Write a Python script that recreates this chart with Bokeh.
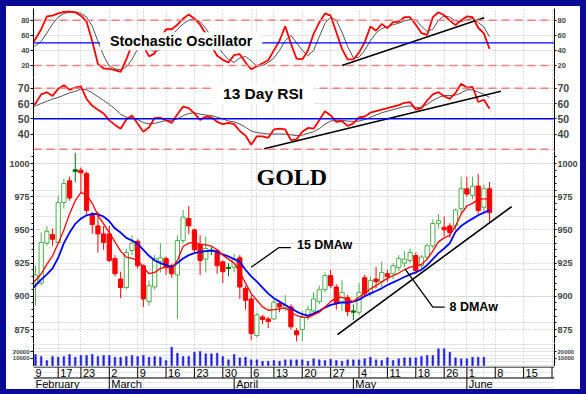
import math
from bokeh.plotting import figure
from bokeh.models import Range1d, FixedTicker, LinearAxis, Grid, Span, Label, ColumnDataSource
from bokeh.layouts import column
from bokeh.embed import file_html
from bokeh.resources import INLINE
from bokeh.core.properties import value

# ---------------- data (trading-day index 0 = 9 Feb 2009) ----------------
opens = [905, 910, 910, 940, 946.5, 940.5, 970.6, 987, 994, 995,
         992.5, 961, 953, 947, 947, 928.5, 913, 906.6, 934.5, 941.5,
         923, 896, 907, 926, 928.5, 923, 916, 942, 958.6, 950,
         939, 928, 934, 934.5, 926, 921, 922, 929, 906, 898,
         870.5, 884.5, 883, 883, 894.5, 891, 892, 874, 875, 885,
         889, 896, 905, 915.6, 907, 895.6, 899, 888, 888, 914,
         903, 913, 911, 917, 917, 921.7, 925, 927, 930.7, 923,
         929.5, 938, 955, 952, 953, 953, 966, 981, 976, 983,
         967, 981]
highs = [918, 923, 948, 953, 951, 976, 988.5, 990, 1008, 997,
         994, 963.5, 963.5, 953, 953, 931, 918.5, 936, 946, 943,
         924, 912, 931, 940, 930, 924.5, 946, 965, 968, 951,
         946, 945, 937, 935, 927, 925, 932, 931, 908, 901,
         887.5, 886, 884.5, 897.5, 896, 901, 894, 876, 889, 893,
         903, 908, 918, 920, 909, 912, 901, 894, 910, 916,
         915, 922, 926, 920, 925, 931, 934, 936, 933, 931,
         940, 958, 962, 960, 955, 966, 990, 990, 990, 992,
         984, 986]
lows = [895, 893, 908, 938, 938, 940, 966, 972, 986, 978,
        962, 947, 933, 935, 925.7, 915, 898.6, 905, 931, 921,
        892, 893, 905, 918, 916, 914, 883, 940, 947, 933,
        916, 918, 931, 917, 910, 915, 918, 898, 890, 867,
        869, 879, 876, 882, 888, 889, 875, 866, 866, 882,
        887, 894, 903, 906, 890, 889, 885, 882, 886, 900,
        900, 906, 907, 911, 913, 919, 922, 925, 917, 920,
        927, 936, 951, 945, 944, 950, 963, 975, 973, 962,
        964, 955]
closes = [912, 916, 940.5, 949, 943, 970.6, 985, 974, 995.3, 993,
          964.6, 954, 947, 940.5, 927, 917, 906.6, 933, 940, 923,
          898, 908, 928.5, 929, 922, 917, 942, 959.6, 953, 935,
          927, 936, 934.8, 923, 918.5, 921.8, 928, 907, 897, 872,
          886, 882.5, 881, 895.6, 892, 893, 877, 871, 884, 890,
          898, 905, 915.6, 908, 895, 903, 888.5, 889, 903, 902,
          912, 911, 918, 915, 923, 928.5, 928, 933, 919.4, 929.5,
          938, 954.8, 957, 950, 948, 965, 981, 977, 983, 964.6,
          981, 963]
dma8 = [909, 912, 917, 924, 930.5, 940, 950, 962, 972, 978,
        976.5, 970, 961, 954.5, 948, 941, 934, 929.5, 928.5, 927,
        922, 917, 918, 921, 922, 920.7, 927, 937.5, 940, 940.5,
        939.3, 938.7, 937.7, 935, 931, 928, 925, 918, 910, 902,
        897, 892, 889.5, 890, 890.6, 891.3, 888, 885.5, 884.5, 884,
        886, 888, 892, 896, 899, 899.3, 897.5, 896, 899.5, 902,
        905.6, 908, 911, 913.5, 915.5, 917.5, 920, 922, 922.7, 924,
        928, 934, 941, 944, 946, 953, 962, 968, 970, 973,
        973.4, 973.4]
dma15 = [904, 908, 912.5, 916.5, 921, 929, 940, 948, 954.5, 958.5,
         961, 962, 961.8, 960, 956.5, 951, 948, 944, 942, 939.5,
         935, 930.5, 927, 925, 923.5, 922, 925, 928.5, 931, 932.5,
         933.5, 934, 934.5, 933.5, 931.5, 930, 928, 926, 920, 915,
         911, 906.5, 902, 898.5, 896, 893.5, 891, 888.5, 886.5, 885.5,
         887, 889, 891.5, 893.5, 894.5, 895.5, 895.3, 896, 897.5, 900,
         902, 904, 906, 908.5, 910.5, 912.5, 914.5, 916.5, 918, 920,
         923.5, 928, 932.5, 936, 940, 948.5, 953, 956, 958.5, 961,
         963, 965]
volume = [12000, 15700, 12900, 7100, 12900, 11900, 12900, 15700, 11900, 14300,
          14300, 15700, 12900, 14300, 14300, 11900, 11900, 12900, 14300, 12900,
          14300, 11900, 12900, 11900, 7100, 26200, 17600, 12900, 12900, 19000,
          20000, 16700, 16700, 17600, 12900, 8100, 15700, 11000, 11900, 8100,
          8100, 6200, 6200, 7100, 6200, 8100, 8100, 8100, 8100, 6200,
          9500, 8100, 7100, 9000, 7100, 6200, 8100, 8100, 8100, 9500,
          11900, 8100, 7100, 11000, 7100, 9500, 11000, 11000, 11000, 12900,
          14300, 14300, 23800, 23800, 19000, 11000, 9500, 9500, 11900, 11900,
          11900, float("nan")]
stoch_k = [45, 55, 68, 85, 86, 89, 91, 91.5, 90.5, 86,
           78, 52, 22, 16, 15.5, 14, 11.5, 28, 48, 59.7,
           46, 32, 36, 55, 68, 68, 74, 82, 87.5, 82,
           74, 62, 46, 33, 27.5, 24, 34, 35, 24, 15,
           19, 23, 27, 40, 53, 72, 49, 29, 28, 40,
           62, 77, 89, 86, 64, 42, 28, 28, 37, 51,
           71.7, 66, 75, 69.5, 77.4, 78, 84, 84, 74, 63,
           60.5, 84, 90.6, 86.5, 79.5, 73.5, 80, 85, 84, 70,
           62.5, 42]
stoch_d = [44, 46, 52, 63, 75, 84, 89, 90.5, 91, 89,
           84, 72, 52, 33, 19, 15.5, 14.5, 18, 28, 42,
           45, 42, 38, 41, 50, 60, 68, 75, 80, 82,
           78, 69, 58, 46, 36, 28, 24, 30, 32, 26,
           19, 20, 24, 30, 40, 53, 60, 50, 40, 33,
           40, 58, 76, 84, 80, 64, 45, 30, 31, 40,
           53, 63, 69, 71, 74, 76, 79, 81, 80, 72,
           65, 68, 80, 86, 84, 79, 78, 81, 82, 77,
           71, 58]
rsi = [57, 60, 66, 67.4, 65, 69.7, 72, 69, 70.5, 71.3,
       63, 58.5, 56, 53.5, 49, 46, 43.5, 49.5, 52.2, 46.7,
       41.5, 44.5, 50.5, 50.7, 49, 47.3, 53, 58, 57, 53.5,
       49.3, 51.5, 51, 48, 46.5, 47.3, 46.5, 42, 39, 33,
       38.5, 38.5, 37.5, 43, 43.5, 43, 36, 36.5, 41.5, 44,
       43.5, 49, 55, 52.2, 48, 48.5, 45.3, 47, 51, 51.5,
       54, 55, 56, 57, 58, 59, 60.5, 61, 56, 57,
       62, 66, 67.5, 64.8, 63.1, 67, 73, 70.5, 71, 61,
       62.5, 56.6]
rsi_signal = [57.5, 58.5, 60, 61.5, 63, 64, 65.5, 67, 68, 69.5,
              69, 67, 64.5, 62, 59.5, 56.5, 53, 51, 50.5, 49.5,
              47.5, 46.7, 47, 48, 48.9, 49, 50, 52, 53.5, 54,
              53, 52.5, 52.2, 51, 50, 48.5, 48, 46.5, 44.5, 42,
              41, 40.5, 40, 40, 40, 40, 39.5, 39, 39.3, 40.5,
              41.5, 43.5, 46.5, 48.5, 49, 49, 48.5, 48.3, 48.5, 49.5,
              51, 52.5, 54, 55, 56, 57, 58, 58.5, 57.5, 57.5,
              59.5, 62, 64, 65.3, 65.3, 65.5, 67, 69, 69, 67.5,
              66, 64]
days = list(range(len(closes)))

week_idx = [0, 5, 9, 14, 19, 24, 29, 34, 39, 43, 48, 53, 58, 63, 68, 73, 77, 82, 87, 92]
week_lbl = ["9", "17", "23", "2", "9", "16", "23", "30", "6", "13", "20", "27",
            "4", "11", "18", "26", "1", "8", "15", "22"]
month_idx = [-5, 14, 36, 57, 77]
month_lbl = ["February", "March", "April", "May", "June"]

stoch_ticks = [20, 40, 60, 80]
rsi_ticks = [40, 50, 60, 70]
price_ticks = [875, 900, 925, 950, 975, 1000]
price_minor = [870, 880, 885, 890, 895, 905, 910, 915, 920, 930, 935, 940, 945,
               955, 960, 965, 970, 980, 985, 990, 995, 1005]
vol_ticks = [10000, 20000]

price_trend_x, price_trend_y = [54.2, 84.9], [871.2, 967.6]
stoch_trend_x, stoch_trend_y = [55.0, 80.05], [20, 83.2]
rsi_trend_x, rsi_trend_y = [41.3, 83.0], [30.3, 68.1]
call15_x, call15_y = [39.0, 43.9, 46.0], [921.9, 936.7, 936.7]
call8_x, call8_y = [66.1, 71.0, 73.1], [920.7, 891.8, 891.8]

# ---------------- styling ----------------
W = 574
FONT = "Liberation Sans"
GRID = "#bcbcbc"
RED_DASH = "#f08080"
X0, X1 = 0.646, 92.44
xr = Range1d(X0, X1)


def make_fig(h, y0, y1, top=0, bottom=0):
    p = figure(width=W, height=h, x_range=xr, y_range=Range1d(y0, y1),
               output_backend="svg", toolbar_location=None,
               x_axis_location=None, y_axis_location=None,
               min_border_left=24, min_border_right=24,
               min_border_top=top, min_border_bottom=bottom)
    p.outline_line_color = None
    p.background_fill_color = "white"
    p.border_fill_color = "white"
    return p


def add_axes(p, ticks, size, minor=None):
    for side in ("left", "right"):
        ax = LinearAxis(ticker=FixedTicker(ticks=ticks, minor_ticks=minor or []),
                        major_label_text_font=FONT,
                        major_label_text_font_size=size,
                        major_label_text_font_style="bold",
                        major_tick_in=0, major_tick_out=2 if side == "right" else 3,
                        minor_tick_in=0, minor_tick_out=2 if minor else 0,
                        major_label_standoff=1,
                        axis_line_color="black", major_tick_line_color="black")
        p.add_layout(ax, side)


def vgrid(p):
    p.add_layout(Grid(dimension=0, ticker=FixedTicker(ticks=week_idx),
                      grid_line_color=GRID, grid_line_dash="1 2"))


def hgrid(p, ticks):
    p.add_layout(Grid(dimension=1, ticker=FixedTicker(ticks=ticks),
                      grid_line_color=GRID, grid_line_dash="1 2"))


# ---------------- stochastic panel ----------------
f1 = make_fig(71, 4.1, 95.5, top=2)
vgrid(f1)
add_axes(f1, stoch_ticks, "7.5px")
for lv in (80, 20):
    f1.add_layout(Span(location=lv, dimension="width", line_color=RED_DASH,
                       line_dash="8 5", line_width=1.5))
f1.add_layout(Span(location=50, dimension="width", line_color="#0000ff", line_width=1.4))
f1.line(days, stoch_d, line_color="#505050", line_width=1)
f1.line(days, stoch_k, line_color="#ff0000", line_width=1.8)
f1.line(stoch_trend_x, stoch_trend_y, line_color="black", line_width=1.6)
f1.add_layout(Label(x=26.65, y=52, text="Stochastic Oscillator", text_align="center",
                    text_baseline="middle", text_font=FONT, text_font_size="14.3px",
                    text_font_style="bold", text_color="black",
                    background_fill_color="white",
                    padding=dict(left=10, right=10, top=1, bottom=1)))

# ---------------- RSI panel ----------------
f2 = make_fig(74, 28.56, 77.08)
vgrid(f2)
add_axes(f2, rsi_ticks, "10.5px")
for lv in (70, 30):
    f2.add_layout(Span(location=lv, dimension="width", line_color=RED_DASH,
                       line_dash="8 5", line_width=1.5))
f2.add_layout(Span(location=50, dimension="width", line_color="#0000ff", line_width=1.4))
f2.line(days, rsi_signal, line_color="#505050", line_width=1)
f2.line(days, rsi, line_color="#ff0000", line_width=1.8)
f2.line(rsi_trend_x, rsi_trend_y, line_color="black", line_width=1.6)
f2.add_layout(Label(x=41.1, y=66.5, text="13 Day RSI", text_align="center",
                    text_baseline="middle", text_font=FONT, text_font_size="15.5px",
                    text_font_style="bold", text_color="black",
                    background_fill_color="white",
                    padding=dict(left=11, right=11, top=2, bottom=2)))

# ---------------- price panel ----------------
f3 = make_fig(192, 864.46, 1009.04)
vgrid(f3)
hgrid(f3, price_ticks)
add_axes(f3, price_ticks, "9px", minor=price_minor)

fills, lines_c = [], []
for o, c in zip(opens, closes):
    if abs(c - o) < 1.5:
        fills.append("#007000"); lines_c.append("#007000")
    elif c > o:
        fills.append("white"); lines_c.append("#4cae4c")
    else:
        fills.append("#ff0000"); lines_c.append("#ff0000")
src = ColumnDataSource(dict(x=days, o=opens, h=highs, l=lows, c=closes,
                            top=[max(a, b) for a, b in zip(opens, closes)],
                            bot=[min(a, b) for a, b in zip(opens, closes)],
                            fill=fills, line=lines_c))
f3.segment(x0="x", y0="l", x1="x", y1="h", line_color="line", line_width=1, source=src)
f3.vbar(x="x", width=0.75, top="top", bottom="bot", fill_color="fill",
        line_color="line", line_width=1, source=src)
f3.line(days, dma15, line_color="#0000ff", line_width=1.8)
f3.line(days, dma8, line_color="#ff0000", line_width=1.3)
f3.line(price_trend_x, price_trend_y, line_color="black", line_width=1.6)
f3.line(call15_x, call15_y, line_color="black", line_width=1.3)
f3.line(call8_x, call8_y, line_color="black", line_width=1.3)
f3.add_layout(Label(x=46.16, y=989.5, text="GOLD", text_align="center",
                    text_baseline="middle", text_font="Liberation Serif",
                    text_font_size="24px", text_font_style="bold", text_color="black"))
f3.add_layout(Label(x=47.06, y=938.3, text="15 DMAw", text_align="left",
                    text_baseline="middle", text_font=FONT, text_font_size="12.5px",
                    text_font_style="bold", text_color="black"))
f3.add_layout(Label(x=73.94, y=891.8, text="8 DMAw", text_align="left",
                    text_baseline="middle", text_font=FONT, text_font_size="12.5px",
                    text_font_style="bold", text_color="black"))

# ---------------- volume panel ----------------
f4 = make_fig(23, -1429, 31429)
vgrid(f4)
add_axes(f4, vol_ticks, "6px")
f4.vbar(x=days, width=0.3, top=volume, bottom=0, fill_color="#2020e0",
        line_color="#2020e0", line_width=0.5)

# ---------------- date rows ----------------
f5 = make_fig(23, -22.5, 0.5)
f5.add_layout(Span(location=0, dimension="width", line_color="black", line_width=1))
f5.add_layout(Span(location=-11, dimension="width", line_color="black", line_width=1))
f5.segment(x0=week_idx, y0=0, x1=week_idx, y1=-11, line_color="black", line_width=1)
f5.segment(x0=month_idx, y0=-11, x1=month_idx, y1=-22.5, line_color="black", line_width=1)
week_lx = [max(i, X0) for i in week_idx]
month_lx = [max(i, X0) for i in month_idx]
f5.text(x=week_lx, y=-5.5, text=week_lbl, x_offset=2, text_align="left",
        text_baseline="middle", text_font=value(FONT), text_font_size=value("11px"),
        text_color="black")
f5.text(x=month_lx, y=-17.3, text=month_lbl, x_offset=2, text_align="left",
        text_baseline="middle", text_font=value(FONT), text_font_size=value("11px"),
        text_color="black")

layout = column(f1, f2, f3, f4, f5, spacing=0,
                styles={"border-style": "solid", "border-color": "#0a0a96",
                        "border-width": "6px 6px 5px 6px"})

open("out.html", "w").write(file_html(layout, INLINE))
